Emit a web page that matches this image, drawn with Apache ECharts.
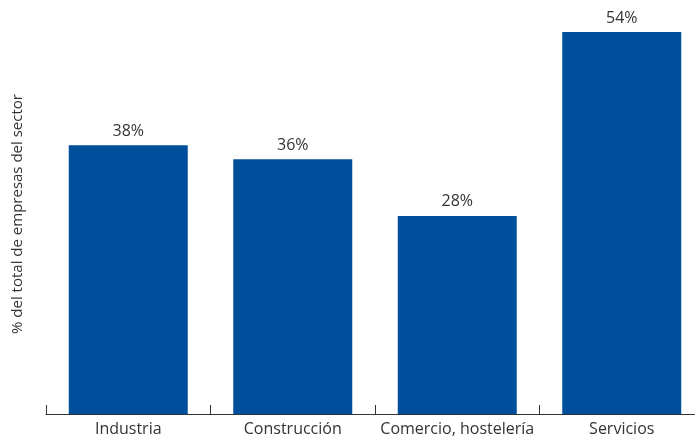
<!DOCTYPE html>
<html>
<head>
<meta charset="utf-8">
<script src="https://cdn.jsdelivr.net/npm/echarts@6/dist/echarts.min.js"></script>
<style>html,body{margin:0;padding:0;background:#fff}#c{width:695px;height:441px}</style>
</head>
<body>
<div id="c"></div>
<script>
const categories = ['Industria', 'Construcción', 'Comercio, hostelería', 'Servicios'];
const values = [38, 36, 28, 54];
const yTitle = '% del total de empresas del sector';

const chart = echarts.init(document.getElementById('c'), null, {renderer: 'canvas'});
const font = '"Open Sans", "Noto Sans", sans-serif';
chart.setOption({
  animation: false,
  grid: {left: 46, width: 658, top: 32, bottom: 27, containLabel: false, outerBoundsMode: 'none'},
  xAxis: {
    type: 'category',
    data: categories,
    axisLine: {show: true, lineStyle: {color: '#333', width: 1}},
    axisTick: {show: true, inside: true, length: 9, alignWithLabel: false, lineStyle: {color: '#333'}},
    axisLabel: {color: '#333', fontSize: 16, fontFamily: font, margin: 7, interval: 0}
  },
  yAxis: {
    type: 'value', min: 0, max: 54,
    axisLine: {show: false}, axisTick: {show: false}, axisLabel: {show: false},
    splitLine: {show: false}
  },
  graphic: [{
    type: 'text', x: 18, y: 214, rotation: Math.PI / 2,
    style: {text: yTitle, fill: '#333', font: '15px ' + font, align: 'center', verticalAlign: 'middle'}
  }],
  series: [{
    type: 'bar',
    data: values,
    barWidth: 119,
    itemStyle: {color: '#004f9d'},
    label: {show: true, position: 'top', distance: 6, formatter: '{c}%', color: '#333', fontSize: 16, fontFamily: font}
  }]
});
</script>
</body>
</html>
